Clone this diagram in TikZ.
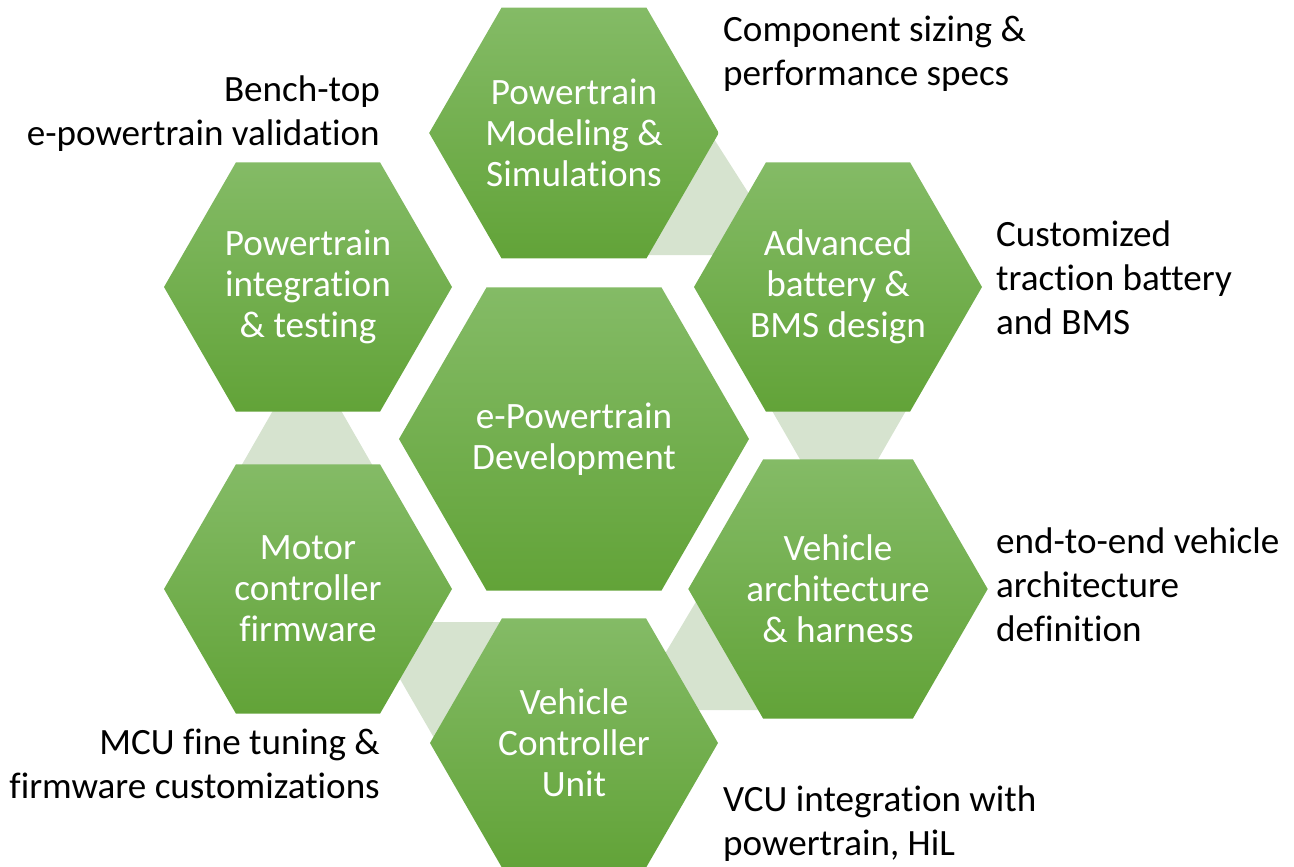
\documentclass[tikz,border=0pt]{standalone}
\usepackage{fontspec}
\setmainfont{Carlito}[Ligatures=NoCommon]
\usetikzlibrary{shapes.geometric}
\definecolor{hexTop}{RGB}{132,187,102}
\definecolor{hexBot}{RGB}{98,163,56}
\definecolor{linkcol}{RGB}{214,227,207}
\begin{document}
\begin{tikzpicture}[x=1pt,y=-1pt,
  hexo/.style={regular polygon, regular polygon sides=6, minimum size=288pt, inner sep=0pt,
    top color=hexTop, bottom color=hexBot, draw=none, text=white, align=center,
    font=\fontsize{37.2}{41}\selectfont},
  hexbig/.style={hexo, minimum size=350pt},
  lab/.style={font=\fontsize{37.1}{44}\selectfont, text=black, inner sep=0pt},
  link/.style={fill=linkcol, draw=none}]
\useasboundingbox (0,0) rectangle (1294,867);
% connectors (behind hexagons)
\path[link] (707,128) -- (788,255) -- (640,255) -- (640,128) -- cycle;
\path[link] (767,402) -- (911,402) -- (869,475) -- (809,475) -- cycle;
\path[link] (706,585) -- (660,662) -- (660,710) -- (800,710) -- (800,585) -- cycle;
\path[link] (367,622) -- (520,622) -- (520,750) -- (441,750) -- cycle;
\path[link] (279,400) -- (335,400) -- (378,475) -- (236,475) -- cycle;
% hexagons
\node[hexo] (T) at (574,133) {Powertrain\\Modeling \&\\Simulations};
\node[hexo] (B) at (838,287) {Advanced\\battery \&\\BMS design};
\node[hexo] (A) at (838,589) {Vehicle\\architecture\\\& harness};
\node[hexo] (V) at (574,743) {Vehicle\\Controller\\Unit};
\node[hexo] (M) at (308,589) {Motor\\controller\\firmware};
\node[hexo] (I) at (308,287) {Powertrain\\integration\\\& testing};
\node[hexbig] (C) at (574,439) {e-Powertrain\\Development};
% labels
\node[lab, anchor=west, align=left] (l1) at (723,53.5) {Component sizing \&\\performance specs};
\node[lab, anchor=east, align=right] (l2) at (380,114) {Bench-top\\e-powertrain validation};
\node[lab, anchor=west, align=left] (l3) at (996,278) {Customized\\traction battery\\and BMS};
\node[lab, anchor=west, align=left] (l4) at (996,585) {end-to-end vehicle\\architecture\\definition};
\node[lab, anchor=east, align=right] (l5) at (380,763.5) {MCU fine tuning \&\\firmware customizations};
\node[lab, anchor=west, align=left] (l6) at (723,823.5) {VCU integration with\\powertrain, HiL};
\end{tikzpicture}
\end{document}
